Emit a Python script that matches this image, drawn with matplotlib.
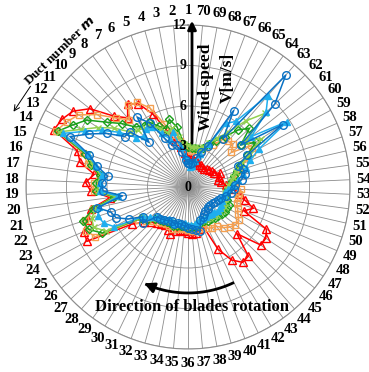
import numpy as np
import matplotlib
matplotlib.use("Agg")
import matplotlib.pyplot as plt
from matplotlib.patches import FancyArrowPatch

plt.rcParams['font.family'] = ['Liberation Serif', 'DejaVu Serif']
plt.rcParams['font.weight'] = 'bold'

ducts = list(range(1, 71))
radial_ticks = [3, 6, 9, 12]

red = [2.2, 2.5, 3.0, 3.5, 4.5, 6.0, 7.2, 7.6, 6.8, 7.6, 9.3, 10.2, 10.6, 10.8, 8.6, 8.2, 7.0, 7.6, 7.2, 5.8,
       7.4, 7.8, 8.4, 8.5, 5.0, 4.2, 3.8, 3.5, 3.4, 3.3, 3.5, 3.7, 3.4, 3.2, 3.3, 3.4, 3.5, 3.5, 3.2, 3.0,
       5.1, 6.3, 6.9, 6.8, 5.0, 6.9, 6.9, 6.6, 4.5, 5.1, 4.3, 3.9, 3.3, 2.8, 2.5, 2.3, 2.4, 2.6, 2.2, 2.1,
       2.0, 1.9, 1.8, 1.8, 1.9, 1.8, 2.0, 2.0, 2.1, 2.1]
orange = [2.8, 3.0, 3.5, 4.0, 5.0, 6.5, 7.3, 7.5, 6.6, 7.4, 8.6, 9.7, 10.2, 10.6, 8.2, 7.6, 6.6, 7.0, 7.0, 5.6,
          7.2, 8.0, 8.2, 7.8, 4.4, 4.0, 3.6, 3.4, 3.3, 3.2, 3.2, 3.3, 3.2, 3.1, 3.1, 3.2, 3.3, 3.3, 3.2, 3.1,
          3.4, 3.5, 3.6, 4.0, 4.3, 4.5, 4.5, 4.2, 4.0, 3.8, 3.8, 3.8, 3.9, 3.5, 3.5, 3.8, 4.0, 4.5, 5.4, 5.6,
          4.1, 4.6, 4.5, 4.4, 3.6, 3.3, 3.0, 2.8, 2.7, 2.7]
green = [3.0, 3.2, 4.5, 5.2, 4.6, 5.0, 5.6, 5.6, 5.9, 6.8, 7.7, 9.0, 9.7, 10.5, 8.0, 7.4, 6.6, 6.8, 6.8, 5.5,
         7.2, 8.2, 8.0, 7.2, 4.2, 3.9, 3.4, 3.2, 3.1, 3.0, 3.0, 3.1, 3.0, 2.9, 2.9, 3.0, 3.0, 3.0, 2.9, 2.8,
         2.8, 2.9, 2.9, 3.0, 3.1, 3.2, 3.3, 3.3, 3.3, 3.0, 2.9, 2.9, 3.0, 3.2, 3.3, 3.5, 3.8, 4.2, 5.0, 6.0,
         5.0, 6.3, 5.6, 4.6, 4.0, 3.5, 3.1, 2.9, 2.9, 2.9]
light_green = [3.1, 3.2, 3.8, 4.5, 4.3, 4.8, 5.3, 5.4, 5.6, 5.9, 7.0, 8.0, 9.0, 10.4, 7.8, 7.2, 6.5, 6.6, 6.7, 5.4,
               7.0, 7.5, 7.6, 6.9, 4.1, 3.8, 3.3, 3.1, 3.0, 2.9, 2.9, 3.0, 2.9, 2.8, 2.8, 2.9, 2.9, 2.9, 2.8, 2.7,
               2.7, 2.8, 2.8, 2.9, 3.0, 3.0, 3.1, 3.1, 3.0, 2.9, 2.8, 2.8, 2.9, 3.0, 3.2, 3.4, 3.7, 4.3, 5.2, 6.5,
               5.5, 7.9, 6.5, 5.0, 4.2, 3.6, 3.2, 3.0, 3.0, 3.0]
light_blue = [2.0, 2.3, 3.0, 4.2, 3.8, 4.4, 5.2, 5.3, 5.0, 5.3, 6.5, 7.6, 8.7, 10.1, 7.8, 7.0, 6.4, 6.5, 6.5, 5.2,
              6.8, 7.0, 6.8, 6.2, 4.0, 3.6, 3.2, 3.0, 2.9, 2.8, 2.8, 2.9, 2.8, 2.7, 2.7, 2.8, 2.8, 2.8, 2.7, 2.6,
              2.6, 2.6, 2.6, 2.7, 2.7, 2.8, 2.8, 2.8, 2.7, 2.6, 2.7, 2.8, 3.0, 3.3, 3.7, 4.2, 4.5, 5.0, 6.0, 8.8,
              6.0, 8.0, 9.0, 6.0, 5.5, 3.5, 2.6, 2.0, 1.6, 1.5]
blue = [1.8, 2.0, 2.6, 3.2, 3.3, 4.0, 5.5, 6.4, 4.4, 5.9, 6.0, 7.2, 8.3, 9.5, 7.7, 6.9, 6.0, 6.4, 6.3, 4.9,
        6.9, 6.0, 5.8, 5.0, 4.0, 4.3, 3.2, 3.1, 3.0, 2.9, 2.8, 2.9, 2.8, 2.8, 2.9, 3.0, 3.1, 3.2, 3.4, 2.6,
        2.5, 2.3, 2.2, 2.2, 2.1, 2.1, 2.2, 2.3, 2.4, 2.6, 2.9, 3.2, 3.4, 3.5, 4.0, 4.3, 4.3, 4.0, 5.0, 8.4,
        5.0, 8.9, 11.0, 4.4, 6.6, 3.4, 2.8, 2.2, 1.8, 1.7]

series = [
    (red, dict(color='#FF0000', marker='^', mfc='none', ms=5.5)),
    (orange, dict(color='#F5A050', marker='s', mfc='none', ms=4.5)),
    (green, dict(color='#1AA01A', marker='D', mfc='none', ms=4)),
    (light_green, dict(color='#92D050', marker='x', mfc='none', ms=4.5)),
    (light_blue, dict(color='#1EAEEE', marker='^', mfc='#1EAEEE', ms=5)),
    (blue, dict(color='#0A72C4', marker='o', mfc='none', ms=5.5)),
]

fig = plt.figure(figsize=(3.69, 3.72), dpi=100)
ax = fig.add_axes([0.0705, 0.0618, 0.878, 0.871], projection='polar')
ax.set_theta_zero_location('N')
ax.set_theta_direction(1)
ax.set_ylim(0, 12)

theta = np.deg2rad((np.array(ducts) - 1) * 360.0 / 70)

# grid
ax.set_xticks(theta)
ax.set_xticklabels([])
ax.set_yticks(radial_ticks)
ax.set_yticklabels([])
ax.grid(True, color='#8c8c8c', lw=0.6)
ax.spines['polar'].set_color('#8c8c8c')
ax.spines['polar'].set_linewidth(0.8)
ax.tick_params(length=0)

for vals, st in series:
    t = np.append(theta, theta[0])
    v = np.append(vals, vals[0])
    ax.plot(t, v, lw=1.1, mew=1.0, clip_on=False, **st)

# duct labels
for d, th in zip(ducts, theta):
    ax.text(th, 13.05, str(d), ha='center', va='center', fontsize=10.5,
            fontweight='bold', clip_on=False)

# radial labels
for r in radial_ticks:
    ax.annotate(str(r), xy=(0, r), xytext=(-1, 0), textcoords='offset points',
                ha='right', va='center', fontsize=10, fontweight='bold')
ax.text(0, 0, '0', ha='center', va='center', fontsize=10, fontweight='bold')

# vertical arrow
fig.patches.append(FancyArrowPatch((192 / 369, 1 - 146 / 372), (192 / 369, 1 - 18 / 372),
                                   transform=fig.transFigure, arrowstyle='-|>,head_length=5,head_width=2.5',
                                   color='black', lw=2, mutation_scale=1))
fig.text(206 / 369, 1 - 87 / 372, 'Wind speed', rotation=90, ha='center', va='center',
         fontsize=12.5, fontweight='bold')
fig.text(228 / 369, 1 - 78 / 372, 'V[m/s]', rotation=90, ha='center', va='center',
         fontsize=12.5, fontweight='bold')

# duct number label
fig.text(60 / 369, 1 - 50 / 372, 'Duct number $\\boldsymbol{m}$', rotation=44, ha='center', va='center',
         fontsize=9.5, fontweight='bold')
fig.patches.append(FancyArrowPatch((32 / 369, 1 - 84 / 372), (12 / 369, 1 - 114 / 372),
                                   transform=fig.transFigure, arrowstyle='->,head_length=4,head_width=2',
                                   color='black', lw=0.7, mutation_scale=1))

# rotation arrow
arc_t = np.deg2rad(np.linspace(205, 157, 40))
ax.plot(arc_t, np.full_like(arc_t, 7.85), color='black', lw=2)
ax.annotate('', xy=(np.deg2rad(154), 7.85), xytext=(np.deg2rad(160), 7.85),
            arrowprops=dict(arrowstyle='-|>,head_length=0.6,head_width=0.3', color='black', lw=2))
fig.text(192 / 369, 1 - 307 / 372, 'Direction of blades rotation', ha='center', va='center',
         fontsize=12, fontweight='bold')

fig.savefig('out.png', dpi=100)
